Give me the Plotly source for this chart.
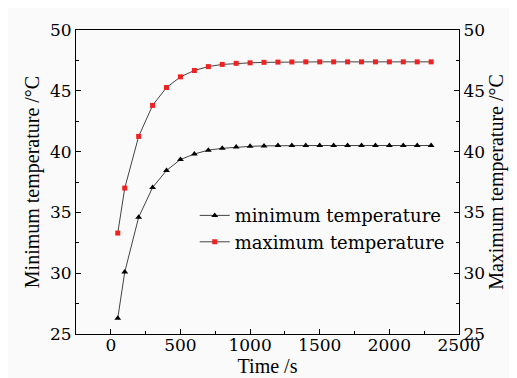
import plotly.graph_objects as go

time_s = [50, 100, 200, 300, 400, 500, 600, 700, 800, 900, 1000, 1100, 1200, 1300,
          1400, 1500, 1600, 1700, 1800, 1900, 2000, 2100, 2200, 2300]
min_temp = [26.3, 30.1, 34.6, 37.05, 38.45, 39.35, 39.8, 40.12, 40.27, 40.37, 40.43, 40.47,
            40.5, 40.5, 40.5, 40.5, 40.5, 40.5, 40.5, 40.5, 40.5, 40.5, 40.5, 40.5]
max_temp = [33.3, 37.0, 41.25, 43.8, 45.27, 46.15, 46.67, 46.99, 47.17, 47.26, 47.3, 47.34,
            47.36, 47.37, 47.38, 47.38, 47.38, 47.38, 47.38, 47.38, 47.38, 47.38, 47.38, 47.38]

FONT = "DejaVu Serif"
TFONT = "Liberation Serif"
BG = "#fafafa"

fig = go.Figure()
fig.add_trace(go.Scatter(
    x=time_s, y=min_temp, name="minimum temperature", mode="lines+markers",
    line=dict(color="#444444", width=1),
    marker=dict(symbol="triangle-up", size=6, color="black"),
))
fig.add_trace(go.Scatter(
    x=time_s, y=max_temp, name="maximum temperature", mode="lines+markers",
    line=dict(color="#444444", width=1),
    marker=dict(symbol="square", size=5, color="#ee2222"),
    yaxis="y2",
))

axis_common = dict(
    showgrid=False, zeroline=False, showline=True, linecolor="black", linewidth=1,
    ticks="inside", ticklen=5, tickcolor="black",
    tickfont=dict(family=FONT, size=17, color="black"),
    minor=dict(ticks="inside", ticklen=3, tickcolor="black", dtick=2.5),
)

fig.update_layout(
    width=517, height=378,
    margin=dict(l=68, r=66, t=16, b=52),
    paper_bgcolor=BG, plot_bgcolor=BG,
    font=dict(family=FONT, color="black"),
    showlegend=True,
    legend=dict(x=0.31, y=0.45, xanchor="left", yanchor="top", bgcolor="rgba(0,0,0,0)",
                itemwidth=30, tracegroupgap=0,
                font=dict(family=FONT, size=18, color="black")),
    xaxis=dict(
        range=[-250, 2500], tickmode="array", tickvals=[0, 500, 1000, 1500, 2000, 2500],
        showgrid=False, zeroline=False, showline=True, mirror=True, linecolor="black", linewidth=1,
        ticks="inside", ticklen=5, tickcolor="black", ticklabelstandoff=-4,
        tickfont=dict(family=FONT, size=17, color="black"),
        minor=dict(ticks="inside", ticklen=3, tickcolor="black", tickvals=[250, 750, 1250, 1750, 2250]),
        title=dict(text="Time /s", font=dict(family=TFONT, size=20, color="black"), standoff=0),
    ),
    yaxis=dict(
        range=[25, 50], dtick=5, **axis_common,
        title=dict(text="Minimum temperature /°C", font=dict(family=TFONT, size=20, color="black"), standoff=4),
    ),
    yaxis2=dict(
        range=[25, 50], dtick=5, overlaying="y", side="right", **axis_common,
        title=dict(text="Maximum temperature /°C", font=dict(family=TFONT, size=20, color="black"), standoff=4),
    ),
)

fig.write_html("out.html")
